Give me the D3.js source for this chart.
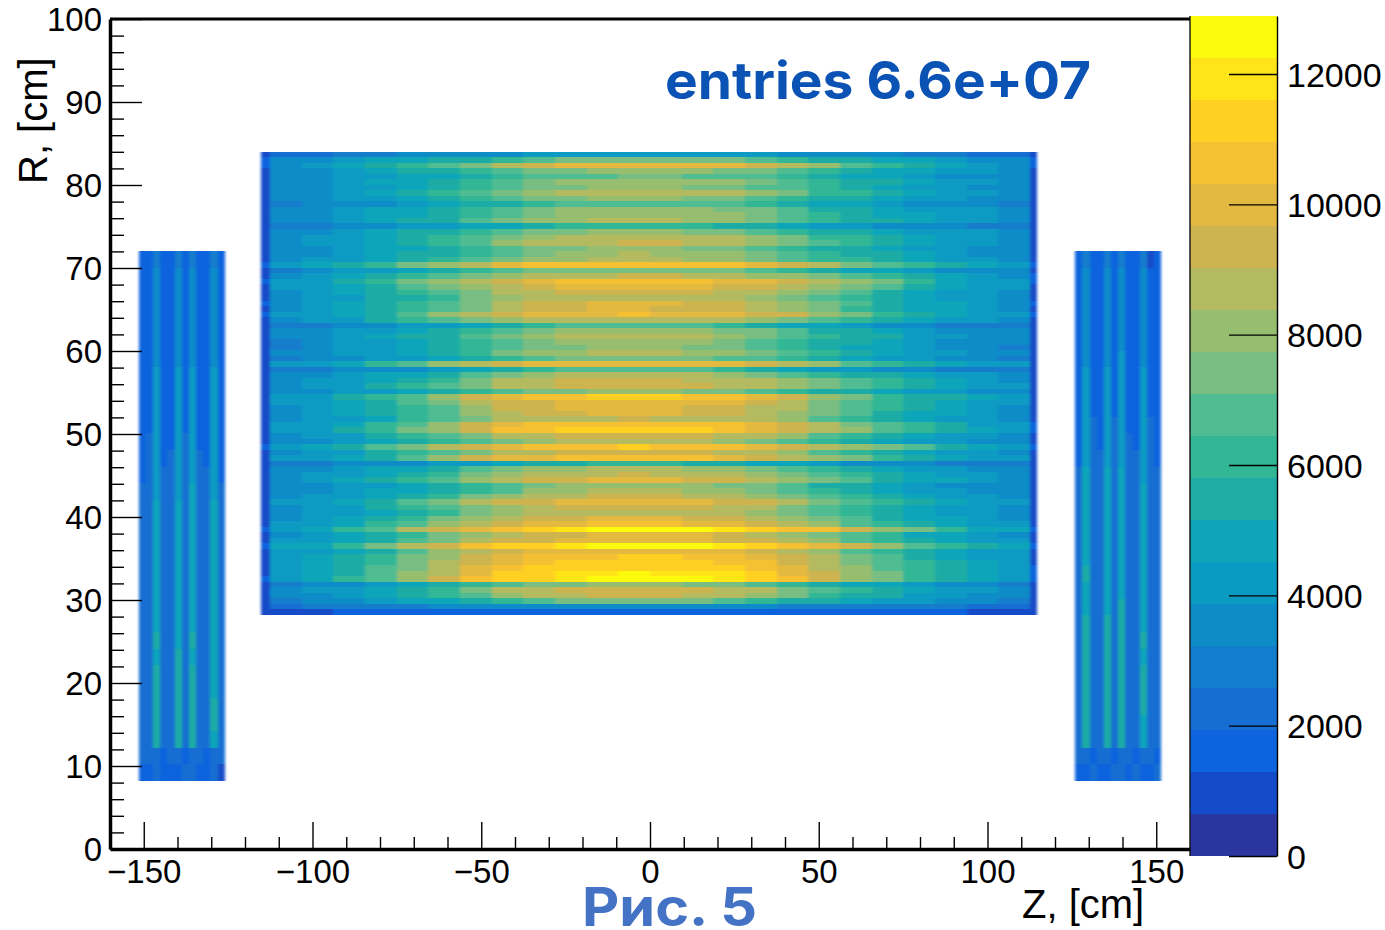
<!DOCTYPE html>
<html><head><meta charset="utf-8">
<script src="https://cdnjs.cloudflare.com/ajax/libs/d3/7.8.5/d3.min.js"></script>
<style>html,body{margin:0;padding:0;background:#fff}svg{display:block}
text{font-family:"Liberation Sans",Arial,sans-serif;fill:#000}</style></head><body>
<script>
// all counts below are in hundreds
const zMajor=[-150,-100,-50,0,50,100,150];
const zMinor=[-140,-130,-120,-110,-90,-80,-70,-60,-40,-30,-20,-10,10,20,30,40,60,70,80,90,110,120,130,140];
const rMajor=[0,10,20,30,40,50,60,70,80,90,100];
const rMinor=[2,4,6,8,12,14,16,18,22,24,26,28,32,34,36,38,42,44,46,48,52,54,56,58,62,64,66,68,72,74,76,78,82,84,86,88,92,94,96,98];
const barTicks=[0,2000,4000,6000,8000,10000,12000];
const countMax=12890;
const palette=["#2b35a0","#144bc8","#0e64de","#166ed2","#127dcd","#0e8cc8","#0a9bc3","#0fa5b9","#1eaca5","#32b796","#50bc91","#78be82","#96be6e","#b4ba5f","#cdb450","#e4b941","#f5c032","#ffd023","#ffe419","#fcfa0f"];
const centreZ=[-115.3,-112.6,-103.2,-93.8,-84.5,-75.1,-65.7,-56.3,-46.9,-37.5,-28.2,-18.8,-9.4,0,9.4,18.8,28.2,37.5,46.9,56.3,65.7,75.1,84.5,93.8,103.2,112.6,114.8];
const centreR=[84,28.2];
const leftSideZ=[-151.5,-126];
const rightSideZ=[126,151.4];
const sideR=[72,8.2];
const centreCounts=[
[9,20,22,26,30,34,36,37,38,40,40,42,42,42,42,40,40,38,36,35,33,32,28,24,22,10],
[13,35,38,42,46,51,54,57,62,68,72,74,76,76,74,72,68,64,58,54,49,46,41,38,35,13],
[13,38,42,48,56,61,66,75,84,94,100,101,100,100,100,98,92,86,78,67,60,55,48,42,38,13],
[12,35,38,43,48,53,56,61,66,72,76,78,78,78,78,76,72,66,60,55,50,47,42,39,35,12],
[12,33,35,39,42,47,50,55,62,66,70,70,72,72,70,70,66,62,56,50,46,41,38,35,33,12],
[12,35,37,41,46,51,56,61,68,74,78,80,80,82,80,78,74,70,62,57,52,47,42,39,37,12],
[12,33,37,41,44,49,54,61,66,72,76,78,78,78,76,74,70,66,60,55,50,45,42,37,35,12],
[12,35,37,43,48,53,60,67,74,80,84,88,88,88,86,84,78,72,64,59,52,49,44,39,37,12],
[12,33,35,39,44,49,54,59,66,72,76,78,78,78,76,72,68,62,56,52,46,43,40,35,33,12],
[11,31,33,35,38,43,48,53,58,64,68,70,70,70,70,66,62,56,50,47,42,37,34,33,31,11],
[11,33,37,41,46,49,54,61,68,74,78,78,78,78,78,76,72,66,58,53,48,45,40,39,33,11],
[12,33,37,43,48,51,56,63,70,76,78,80,80,80,80,78,72,68,60,55,50,47,42,39,35,12],
[12,33,37,43,48,53,58,65,72,78,82,84,86,84,82,80,76,70,62,57,54,47,44,39,35,12],
[11,30,32,34,36,40,43,47,51,56,60,64,64,64,62,58,53,49,45,41,37,35,33,31,29,11],
[12,35,37,41,46,53,56,61,68,74,76,78,80,78,76,74,70,64,58,53,50,45,42,39,35,12],
[12,35,39,45,50,55,62,69,76,82,86,88,90,90,88,84,78,72,64,59,54,49,44,39,37,12],
[12,37,41,45,50,57,62,69,78,84,88,90,92,92,90,84,78,72,66,61,56,49,44,41,37,12],
[11,33,37,41,46,51,54,61,68,74,76,78,78,78,76,74,70,64,58,53,50,45,40,37,35,12],
[12,33,37,43,48,53,58,63,70,76,80,82,84,82,80,78,74,68,62,57,52,47,42,37,35,12],
[12,35,39,43,50,55,60,67,72,78,82,84,84,84,82,80,76,70,64,59,54,47,44,39,37,12],
[14,44,48,54,64,73,80,89,100,105,106,106,106,106,106,104,102,96,86,75,66,59,52,46,44,14],
[11,31,35,39,44,49,54,59,66,72,74,76,76,76,74,72,68,62,56,51,46,41,38,35,33,12],
[12,37,41,47,54,61,66,73,80,86,88,90,92,92,90,86,82,78,72,67,60,53,46,41,37,13],
[13,41,45,55,64,75,82,89,96,100,104,108,104,104,106,102,98,94,86,79,72,61,50,45,41,14],
[12,39,43,51,58,67,76,83,90,96,100,102,102,102,100,96,92,88,82,75,68,57,48,43,39,12],
[12,37,41,47,54,61,68,75,84,88,92,92,94,94,92,88,84,78,72,65,58,51,44,41,37,12],
[12,35,41,45,52,57,64,73,80,86,88,88,88,88,88,86,80,74,68,61,56,49,44,39,37,12],
[13,37,43,49,56,61,68,77,88,94,96,98,98,98,96,92,88,82,72,65,58,51,46,41,37,13],
[12,37,41,47,52,59,68,77,88,94,96,98,98,96,96,94,88,80,72,63,56,51,46,41,37,12],
[13,39,43,51,58,65,78,87,94,98,100,102,104,102,100,100,96,92,82,73,64,55,48,43,39,13],
[12,37,41,45,52,59,66,73,80,86,90,90,90,90,88,86,82,74,66,59,54,49,44,39,37,12],
[10,29,31,33,35,39,44,48,54,60,66,68,68,68,66,62,54,50,46,42,37,34,32,30,28,10],
[11,33,35,39,44,51,58,63,70,76,78,80,80,80,78,76,72,66,58,53,48,43,38,35,33,11],
[12,33,35,39,46,53,58,65,74,82,86,90,90,88,84,80,76,70,62,57,52,45,40,37,33,12],
[11,31,35,39,44,49,54,61,68,74,78,80,80,80,78,74,70,64,58,53,48,43,38,35,33,11],
[12,31,35,39,42,47,52,59,68,72,76,78,78,78,76,74,68,62,56,51,46,41,38,35,31,11],
[11,33,37,41,44,49,56,63,72,78,82,84,84,84,82,80,74,68,60,53,48,43,40,37,33,11],
[12,31,33,37,40,45,50,57,64,70,74,76,76,76,74,70,66,60,54,49,44,39,36,33,31,12],
[12,41,45,51,62,69,80,89,94,98,100,102,102,100,100,98,92,86,78,69,62,55,50,45,41,12],
[11,29,31,33,35,38,43,48,54,60,66,68,68,68,66,60,54,48,44,40,36,33,31,30,28,11],
[12,33,37,41,46,51,58,65,74,80,84,86,86,86,84,80,74,68,62,57,52,47,42,39,35,12],
[12,35,39,45,50,57,64,73,84,88,92,92,94,92,90,88,84,78,72,67,60,53,46,41,37,12],
[12,37,39,45,52,59,66,75,84,90,94,94,94,94,92,90,86,80,74,69,64,57,50,43,39,12],
[11,33,35,39,44,49,54,61,68,74,76,78,78,78,76,74,70,64,58,53,48,43,40,37,33,11],
[12,41,45,53,60,69,80,91,100,104,106,110,112,110,106,104,100,92,82,73,64,57,52,47,41,12],
[12,39,43,49,58,65,74,85,92,96,100,100,102,100,98,98,92,86,76,69,62,53,48,43,39,12],
[12,37,41,47,54,61,70,81,92,96,100,100,98,98,96,94,90,84,76,67,60,53,46,41,37,12],
[12,37,39,47,52,61,70,79,90,94,96,98,98,98,96,92,88,82,74,67,58,51,46,41,37,12],
[12,35,39,45,50,59,66,75,84,88,90,90,92,90,90,86,84,78,70,63,56,49,44,39,37,12],
[12,39,43,51,60,69,80,91,100,104,106,108,108,108,106,104,100,94,86,77,68,59,52,45,41,13],
[12,41,45,53,62,71,82,93,104,106,110,112,112,112,110,108,102,96,88,79,70,61,52,47,41,13],
[12,35,39,45,52,61,68,77,84,90,92,92,94,92,92,88,84,78,70,63,56,49,44,39,35,12],
[11,33,37,41,46,53,62,69,76,82,84,86,86,86,84,80,76,70,62,55,50,45,40,37,33,11],
[13,43,49,57,66,77,86,95,100,104,108,108,110,108,106,104,100,96,90,83,76,67,58,51,45,14],
[12,37,39,45,52,61,68,77,84,90,92,94,94,92,92,88,84,78,70,63,56,49,44,41,37,12],
[12,39,43,51,58,67,80,91,98,102,104,106,106,106,104,100,96,90,82,73,64,55,50,45,39,12],
[10,29,31,33,35,37,40,43,49,54,58,60,60,60,58,56,51,47,41,37,34,33,32,31,29,10],
[11,33,37,41,46,51,58,65,72,78,82,84,86,84,82,78,74,68,60,55,50,45,40,37,33,11],
[12,35,39,43,50,57,64,71,80,84,88,90,92,90,90,86,80,74,66,59,54,49,42,39,35,12],
[12,37,41,47,54,61,70,79,88,92,96,98,98,98,96,92,88,80,72,65,58,51,46,41,37,12],
[11,33,35,39,44,49,54,59,66,74,78,80,80,80,78,76,72,66,58,53,48,43,38,35,33,11],
[11,33,37,41,46,51,56,63,70,78,82,84,84,84,82,80,76,70,62,55,50,45,40,37,33,11],
[12,35,39,43,50,57,64,71,82,88,90,92,94,92,90,88,82,76,68,61,54,49,42,39,35,12],
[12,39,43,49,56,65,74,85,92,96,100,102,102,102,100,96,92,86,76,67,60,53,46,43,39,12],
[12,35,39,45,52,59,66,73,82,88,92,92,94,94,92,88,84,76,70,63,56,49,44,39,35,12],
[12,35,39,43,50,57,64,71,78,84,86,88,90,88,86,84,78,72,66,59,54,47,42,39,35,12],
[12,37,41,47,54,63,72,79,88,92,96,98,98,98,96,92,88,82,74,67,58,51,46,41,37,12],
[12,39,43,51,60,69,78,87,96,100,102,104,104,104,102,100,94,88,78,69,62,55,48,43,39,12],
[14,45,51,61,70,85,94,103,108,112,120,126,128,128,126,122,114,108,104,93,82,71,60,51,47,14],
[12,37,41,47,54,63,72,81,90,94,96,98,100,100,98,94,88,82,74,67,60,51,46,41,37,12],
[12,39,43,51,58,67,76,85,92,96,100,100,102,102,100,96,92,86,78,69,62,53,48,43,39,12],
[14,47,51,61,72,85,96,105,110,114,118,124,128,128,124,118,112,108,100,91,80,69,60,53,47,14],
[12,39,43,51,58,67,78,85,92,98,100,102,102,102,100,98,92,86,78,69,62,53,48,43,39,12],
[12,41,47,53,64,73,82,93,100,104,106,108,110,110,108,106,100,94,84,75,66,57,50,45,41,12],
[12,41,47,55,64,75,84,95,102,108,110,112,112,112,110,108,104,96,86,77,68,59,52,47,41,12],
[12,41,47,55,66,77,86,97,106,110,112,114,116,114,114,110,106,98,88,79,70,61,52,47,41,13],
[12,43,49,57,68,79,90,101,110,114,118,122,124,122,122,118,110,102,92,81,72,61,54,49,43,13],
[13,43,49,59,70,81,94,105,112,116,120,124,126,126,124,122,116,106,94,83,74,63,54,49,43,13],
[11,31,33,37,43,48,54,61,66,72,76,78,78,78,76,74,68,62,56,51,46,41,37,33,31,11],
[11,35,39,45,50,57,64,73,84,90,94,96,96,96,94,90,84,76,68,61,54,47,42,39,35,11],
[11,35,37,43,48,55,62,69,78,86,90,92,94,92,90,86,80,72,64,57,52,45,40,37,35,11],
[10,31,33,35,41,46,50,55,62,68,72,76,76,76,74,70,64,58,52,47,44,39,35,33,31,10],
[10,24,26,28,30,32,33,33,34,36,36,38,38,38,36,36,34,32,31,31,29,28,26,24,24,10],
[7,12,12,13,13,14,15,15,16,18,18,18,18,18,18,18,16,15,15,14,14,13,13,12,12,7]
];
const leftCounts=[
[15,13,30,14,13,30,15,31,14,13,30,15],
[17,17,34,17,17,34,18,35,17,17,35,17],
[17,17,36,17,17,35,18,36,17,17,36,17],
[17,17,36,17,17,36,18,36,17,17,36,17],
[17,18,37,17,17,37,18,37,17,17,37,17],
[18,18,37,18,17,37,18,38,18,18,38,18],
[18,18,38,18,18,38,18,38,18,18,38,18],
[18,18,39,18,18,39,18,39,18,18,39,18],
[18,19,40,18,18,40,19,40,18,18,40,18],
[18,19,41,19,18,41,19,41,19,18,41,18],
[19,19,42,19,19,42,19,42,19,19,42,19],
[19,20,43,19,19,43,20,43,19,19,43,19],
[19,20,44,19,20,44,20,44,20,19,44,19],
[19,20,44,20,20,45,20,45,20,20,44,19],
[20,20,45,20,20,45,21,46,20,20,45,20],
[20,21,46,20,20,46,21,46,20,20,46,20],
[20,21,46,20,21,47,21,47,21,20,46,20],
[21,21,47,21,21,47,21,48,21,21,47,21],
[21,22,48,21,21,48,22,48,21,21,47,21],
[21,22,48,21,22,49,22,49,21,21,48,22],
[21,22,49,22,22,49,22,49,22,21,48,22],
[22,23,49,22,22,50,23,50,22,22,49,22],
[22,23,50,23,22,50,23,50,22,22,49,23],
[23,24,54,22,23,50,23,52,23,23,50,22],
[23,23,51,23,24,52,24,51,23,24,50,23],
[24,24,54,24,23,53,24,54,24,23,51,24],
[23,25,52,24,24,53,25,52,24,25,50,24],
[24,24,55,25,24,54,25,55,24,24,52,25],
[25,25,56,24,25,56,24,54,25,24,53,24],
[24,25,53,25,25,54,25,53,25,25,50,25],
[20,22,24,18,21,22,18,21,22,18,21,20],
[16,13,20,18,13,18,20,22,13,18,20,8]
];
const rightCounts=[
[14,30,13,14,31,15,32,13,14,30,12,14],
[17,34,17,17,35,18,35,17,17,34,17,17],
[17,36,17,17,36,18,36,17,17,36,17,17],
[17,36,17,17,36,18,37,17,17,36,17,17],
[17,37,18,17,37,18,37,18,17,37,18,17],
[18,38,18,18,38,18,38,17,18,38,18,18],
[18,38,18,18,38,18,39,18,18,38,18,18],
[18,39,18,18,39,18,40,18,18,39,18,18],
[18,40,19,18,40,19,41,18,19,40,19,18],
[18,42,19,19,42,19,42,19,19,42,19,18],
[19,43,20,19,43,20,43,19,19,43,20,19],
[19,44,20,19,44,20,44,20,19,44,20,19],
[19,45,20,20,45,20,45,20,20,45,20,19],
[20,46,20,20,46,21,46,20,20,45,20,20],
[20,46,21,20,47,21,47,20,20,46,21,20],
[20,47,21,21,47,21,48,21,20,47,21,20],
[21,48,21,21,48,21,48,21,21,47,22,21],
[21,48,22,21,49,22,49,21,21,48,22,22],
[21,49,22,22,49,22,50,22,21,48,22,22],
[22,52,22,22,50,23,50,22,22,49,23,22],
[22,50,23,23,50,23,51,23,23,50,24,23],
[23,51,24,23,51,24,52,24,23,50,23,24],
[23,52,24,24,53,24,52,23,24,51,24,23],
[24,54,24,23,54,25,53,24,23,52,24,24],
[23,53,25,24,55,24,54,24,25,51,25,24],
[24,55,24,25,56,25,55,25,24,52,24,25],
[25,54,25,24,54,25,56,24,25,53,25,24],
[24,56,24,25,58,24,55,25,24,52,24,25],
[24,54,25,25,57,25,54,25,25,51,25,24],
[24,52,25,24,52,24,52,24,25,50,25,24],
[20,22,18,21,22,18,21,22,18,21,20,18],
[13,18,22,13,18,22,20,13,20,13,19,20]
];
const entriesLabel="entries 6.6e+07";
const figureLabel="Рис. 5";
const zTitle="Z, [cm]";
const rTitle="R, [cm]";

const W=1385,H=930;
const svg=d3.select("body").append("svg").attr("width",W).attr("height",H);
const defs=svg.append("defs");
defs.append("filter").attr("id","soft").attr("x","-2%").attr("y","-2%").attr("width","104%").attr("height","104%")
  .append("feGaussianBlur").attr("stdDeviation","1.6 0.7");
const x=d3.scaleLinear().domain([-160,160]).range([110,1190]);
const y=d3.scaleLinear().domain([0,100]).range([849,19]);
const barY=d3.scaleLinear().domain([0,countMax]).range([856,16]);
const color=d3.scaleQuantize().domain([0,countMax]).range(palette);

function uniformEdges(a,n){const s=d3.scaleLinear().domain([0,n]).range(a);return d3.range(n+1).map(s);}
function cells(m,zE,rE){return m.flatMap((row,i)=>row.map((v,j)=>({z0:zE[j],z1:zE[j+1],r0:rE[i],r1:rE[i+1],v:v*100})));}
const all=[
  ...cells(centreCounts,centreZ,uniformEdges(centreR,centreCounts.length)),
  ...cells(leftCounts,uniformEdges(leftSideZ,12),uniformEdges(sideR,leftCounts.length)),
  ...cells(rightCounts,uniformEdges(rightSideZ,12),uniformEdges(sideR,rightCounts.length))
];
svg.append("g").attr("filter","url(#soft)").attr("shape-rendering","crispEdges").selectAll("rect").data(all).join("rect")
  .attr("x",d=>x(d.z0)).attr("width",d=>x(d.z1)-x(d.z0))
  .attr("y",d=>y(d.r0)).attr("height",d=>y(d.r1)-y(d.r0))
  .attr("fill",d=>color(d.v));

// colour bar
const bands=palette.map((c,i)=>({c,lo:countMax*i/palette.length,hi:countMax*(i+1)/palette.length}));
svg.append("g").attr("shape-rendering","crispEdges").selectAll("rect").data(bands).join("rect")
  .attr("x",x(160)).attr("width",1277-x(160))
  .attr("y",d=>barY(d.hi)).attr("height",d=>barY(d.lo)-barY(d.hi))
  .attr("fill",d=>d.c);

function style(g,w,fs){
  g.selectAll(".domain").attr("stroke","#000").attr("stroke-width",w);
  g.selectAll(".tick line").attr("stroke","#000").attr("stroke-width",1.4);
  g.selectAll("text").attr("font-size",fs).attr("font-family",'"Liberation Sans",Arial,sans-serif').attr("fill","#000");
}
const fmtZ=d=>d<0?"\u2212"+Math.abs(d):""+d;
const xMinor=svg.append("g").attr("transform","translate(0,849)")
  .call(d3.axisBottom(x).tickValues(zMinor).tickSizeOuter(0).tickSizeInner(-12).tickFormat(""));
style(xMinor,0,0);
const xMaj=svg.append("g").attr("transform","translate(0,849)")
  .call(d3.axisBottom(x).tickValues(zMajor).tickSizeOuter(0).tickSizeInner(-27).tickPadding(11).tickFormat(fmtZ));
style(xMaj,3.5,33);
const yMinor=svg.append("g").attr("transform","translate(110,0)")
  .call(d3.axisLeft(y).tickValues(rMinor).tickSizeOuter(0).tickSizeInner(-14).tickFormat(""));
style(yMinor,0,0);
const yMaj=svg.append("g").attr("transform","translate(110,0)")
  .call(d3.axisLeft(y).tickValues(rMajor).tickSizeOuter(0).tickSizeInner(-32).tickPadding(8).tickFormat(d3.format("d")));
style(yMaj,3.5,33);
yMaj.selectAll("text").attr("dy","0.36em");
// top frame
svg.append("line").attr("x1",x(-160)).attr("x2",x(160)).attr("y1",y(100)).attr("y2",y(100)).attr("stroke","#000").attr("stroke-width",3);
// colour bar edges and axis
svg.append("line").attr("x1",x(160)).attr("x2",x(160)).attr("y1",barY(countMax)).attr("y2",barY(0)).attr("stroke","#111").attr("stroke-width",1.4);
const barAxis=svg.append("g").attr("transform","translate(1277,0)")
  .call(d3.axisRight(barY).tickValues(barTicks).tickSizeOuter(0).tickSizeInner(-48).tickPadding(10).tickFormat(d3.format("d")));
style(barAxis,1.4,34);
barAxis.selectAll("text").attr("dy","0.36em");

svg.append("text").attr("x",1022).attr("y",918).attr("font-size",40).text(zTitle);
svg.append("text").attr("transform","translate(47,184) rotate(-90)").attr("font-size",40).text(rTitle);
svg.append("text").attr("x",665).attr("y",99).attr("font-size",52).attr("font-weight",700)
  .style("font-family","Inter,'Noto Sans',sans-serif").style("fill","#0b52b5")
  .attr("textLength",426).attr("lengthAdjust","spacingAndGlyphs").text(entriesLabel);
svg.append("text").attr("x",582).attr("y",926).attr("font-size",53).attr("font-weight",700)
  .style("font-family","Inter,'Noto Sans',sans-serif").style("fill","#4472c4")
  .attr("textLength",175).attr("lengthAdjust","spacingAndGlyphs").text(figureLabel);
</script></body></html>
